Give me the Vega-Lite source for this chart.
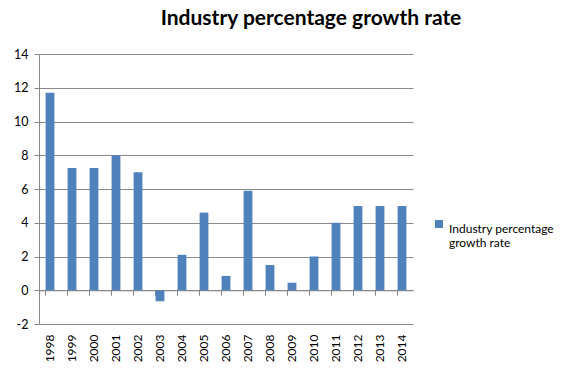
{
  "$schema": "https://vega.github.io/schema/vega-lite/v6.json",
  "width": 374,
  "height": 270,
  "autosize": {"type": "none"},
  "padding": {"left": 39, "top": 54, "right": 161, "bottom": 53},
  "background": "white",
  "title": {"text": "Industry percentage growth rate", "font": "Lato", "fontSize": 21, "fontWeight": "bold", "color": "#000000", "anchor": "middle", "dx": 85, "offset": 19},
  "config": {"view": {"stroke": null}, "font": "Lato"},
  "data": {"values": [
    {"year": "1998", "rate": 11.7},
    {"year": "1999", "rate": 7.25},
    {"year": "2000", "rate": 7.25},
    {"year": "2001", "rate": 8.0},
    {"year": "2002", "rate": 7.0},
    {"year": "2003", "rate": -0.65},
    {"year": "2004", "rate": 2.1},
    {"year": "2005", "rate": 4.6},
    {"year": "2006", "rate": 0.85},
    {"year": "2007", "rate": 5.9},
    {"year": "2008", "rate": 1.5},
    {"year": "2009", "rate": 0.45},
    {"year": "2010", "rate": 2.0},
    {"year": "2011", "rate": 4.0},
    {"year": "2012", "rate": 5.0},
    {"year": "2013", "rate": 5.0},
    {"year": "2014", "rate": 5.0}
  ]},
  "resolve": {"axis": {"x": "independent", "y": "independent"}},
  "layer": [
    {
      "mark": {"type": "bar"},
      "encoding": {
        "x": {"field": "year", "type": "ordinal", "scale": {"paddingInner": 0.6, "paddingOuter": 0.3},
          "axis": {"title": null, "labelAngle": 270, "domain": false, "ticks": false, "labelFontSize": 12, "labelColor": "#000000", "labelPadding": 10, "labelFont": "Lato"}},
        "y": {"field": "rate", "type": "quantitative", "scale": {"domain": [-2, 14], "nice": false},
          "axis": {"title": null, "values": [-2, 0, 2, 4, 6, 8, 10, 12, 14], "labelOverlap": false, "labelExpr": "toString(datum.value)", "grid": true, "gridColor": "#888888", "gridOpacity": 1, "domainColor": "#888888", "tickColor": "#888888", "tickSize": 5, "labelFontSize": 12.5, "labelColor": "#000000", "labelPadding": 6, "labelFont": "Lato"}},
        "color": {"datum": "Industry percentage growth rate", "scale": {"range": ["#4F81BD"]},
          "legend": {"title": null, "orient": "none", "legendX": 394, "legendY": 164, "symbolType": "square", "symbolSize": 64, "symbolStrokeWidth": 0, "labelFontSize": 12, "labelColor": "#000000", "labelFont": "Lato", "labelBaseline": "top", "labelOffset": 4, "labelLimit": 200, "labelExpr": "['Industry percentage', 'growth rate']"}}
      }
    },
    {
      "mark": {"type": "bar", "opacity": 0},
      "encoding": {
        "x": {"field": "year", "type": "ordinal",
          "axis": {"title": null, "orient": "bottom", "offset": -33.75, "labels": false, "domain": true, "domainColor": "#888888", "ticks": true, "tickColor": "#888888", "tickSize": 5, "bandPosition": 0}},
        "y": {"field": "rate", "type": "quantitative", "axis": null}
      }
    }
  ]
}
